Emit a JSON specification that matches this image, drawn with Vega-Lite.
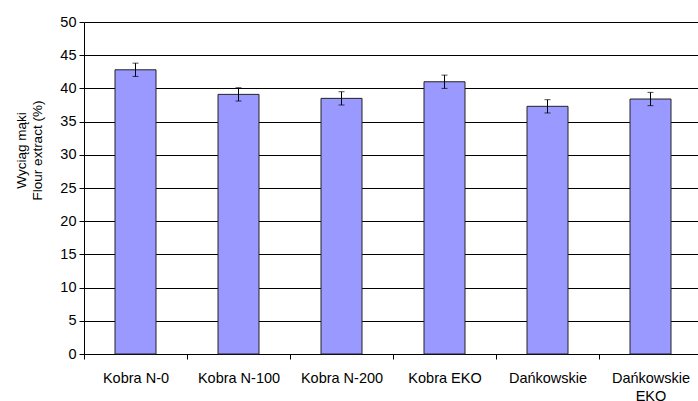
{
  "$schema": "https://vega.github.io/schema/vega-lite/v6.json",
  "width": 614,
  "height": 332,
  "autosize": {"type": "none"},
  "padding": {"left": 84, "top": 22, "right": 0, "bottom": 47},
  "background": "white",
  "config": {"view": {"stroke": null}, "font": "Liberation Sans"},
  "data": {
    "values": [
      {"cultivar": "Kobra N-0", "extract": 42.8, "sd": 1.0},
      {"cultivar": "Kobra N-100", "extract": 39.1, "sd": 1.0},
      {"cultivar": "Kobra N-200", "extract": 38.5, "sd": 1.0},
      {"cultivar": "Kobra EKO", "extract": 41.0, "sd": 1.0},
      {"cultivar": "Dańkowskie", "extract": 37.3, "sd": 1.0},
      {"cultivar": "Dańkowskie EKO", "extract": 38.4, "sd": 1.0}
    ]
  },
  "encoding": {
    "x": {
      "field": "cultivar",
      "type": "nominal",
      "sort": null,
      "scale": {"range": [0, 618], "paddingInner": 0, "paddingOuter": 0},
      "axis": {
        "title": null,
        "labelAngle": 0,
        "tickBand": "extent",
        "labelFontSize": 14.5,
        "labelColor": "black",
        "domainColor": "black",
        "tickColor": "black",
        "tickSize": 5,
        "labelPadding": 12,
        "labelLineHeight": 18,
        "labelBaseline": "top",
        "labelExpr": "datum.value == 'Dańkowskie EKO' ? ['Dańkowskie', 'EKO'] : datum.value"
      }
    },
    "y": {
      "field": "extract",
      "type": "quantitative",
      "scale": {"domain": [0, 50], "nice": false},
      "axis": {
        "values": [0, 5, 10, 15, 20, 25, 30, 35, 40, 45, 50],
        "grid": true,
        "gridColor": "black",
        "gridWidth": 1,
        "domainColor": "black",
        "tickColor": "black",
        "tickSize": 5,
        "labelFontSize": 14.5,
        "labelColor": "black",
        "labelPadding": 3,
        "title": ["Wyciąg mąki", "Flour extract (%)"],
        "titleFontSize": 13.5,
        "titleFontWeight": "normal",
        "titleColor": "black",
        "titleLineHeight": 16,
        "titleX": -56,
        "titleY": 128
      }
    }
  },
  "layer": [
    {
      "mark": {"type": "bar", "fill": "#9999ff", "stroke": "#222222", "strokeWidth": 1, "size": 41}
    },
    {
      "mark": {"type": "errorbar", "ticks": {"size": 6}, "color": "black", "thickness": 1},
      "encoding": {"yError": {"field": "sd"}}
    }
  ]
}
